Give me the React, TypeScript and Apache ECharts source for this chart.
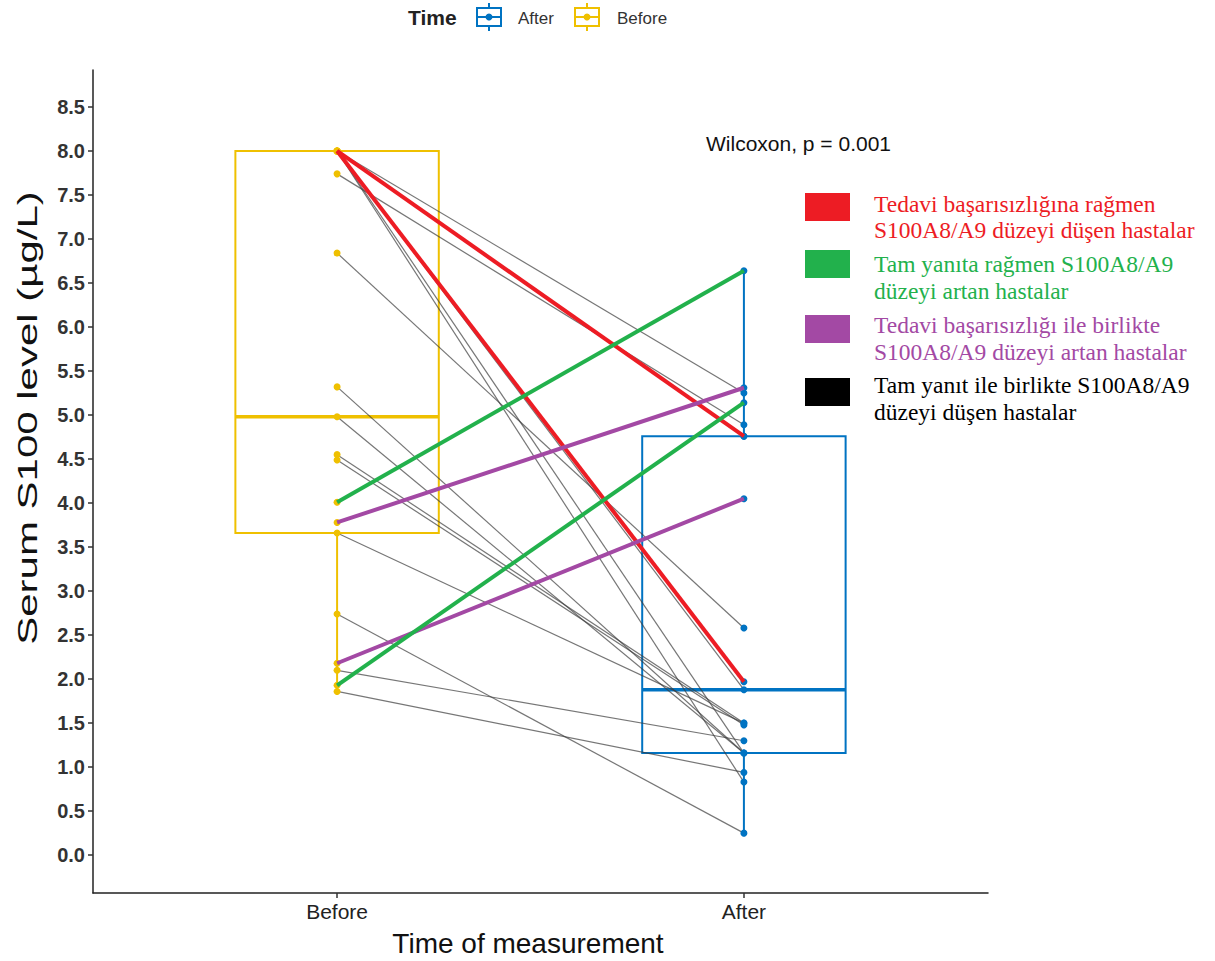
import React, { useEffect, useRef } from "react";
import * as echarts from "echarts";

// ---- data ----
const categories = ["Before", "After"];
const beforeValues = [8.0, 8.0, 8.0, 8.0, 8.0, 8.0, 8.0, 7.74, 6.84, 5.32, 4.98, 4.55, 4.49, 4.01, 3.78, 3.66, 2.74, 2.18, 2.1, 1.93, 1.86];
const afterValues = [4.76, 1.97, 5.25, 4.76, 1.88, 1.16, 0.83, 4.89, 2.58, 1.16, 1.16, 1.5, 1.48, 6.64, 5.31, 1.5, 0.25, 4.05, 1.3, 5.14, 0.94];
const patientGroups = ["red", "red", "grey", "grey", "grey", "grey", "grey", "grey", "grey", "grey", "grey", "grey", "grey", "green", "purple", "grey", "grey", "purple", "grey", "green", "grey"];
const yTickValues = [0, 0.5, 1, 1.5, 2, 2.5, 3, 3.5, 4, 4.5, 5, 5.5, 6, 6.5, 7, 7.5, 8, 8.5];
const legendTexts = [
  ["Tedavi başarısızlığına rağmen", "S100A8/A9 düzeyi düşen hastalar"],
  ["Tam yanıta rağmen S100A8/A9", "düzeyi artan hastalar"],
  ["Tedavi başarısızlığı ile birlikte", "S100A8/A9 düzeyi artan hastalar"],
  ["Tam yanıt ile birlikte S100A8/A9", "düzeyi düşen hastalar"],
];
const statText = "Wilcoxon, p = 0.001";

const BLUE = "#0073C2";
const YELLOW = "#EFC000";
const groupColors: Record<string, string> = {
  red: "#ED1C24",
  green: "#22B14C",
  purple: "#A349A4",
  grey: "rgba(60,60,60,0.7)",
};
const legendColors = ["#ED1C24", "#22B14C", "#A349A4", "#000000"];

function quantile(arr: number[], p: number) {
  const s = [...arr].sort((a, b) => a - b);
  const pos = (s.length - 1) * p;
  const lo = Math.floor(pos);
  const hi = Math.ceil(pos);
  return s[lo] + (s[hi] - s[lo]) * (pos - lo);
}
function boxStats(arr: number[]) {
  const q1 = quantile(arr, 0.25);
  const med = quantile(arr, 0.5);
  const q3 = quantile(arr, 0.75);
  const iqr = q3 - q1;
  const inside = arr.filter((v) => v >= q1 - 1.5 * iqr && v <= q3 + 1.5 * iqr);
  return [Math.min(...inside), q1, med, q3, Math.max(...inside)];
}

export default function App() {
  const ref = useRef<HTMLDivElement>(null);
  useEffect(() => {
    if (!ref.current) return;
    const chart = echarts.init(ref.current, null, { renderer: "svg" });
    const bStats = boxStats(beforeValues);
    const aStats = boxStats(afterValues);
    const boxData = [
      [1, ...bStats, 0],
      [2, ...aStats, 1],
    ];
    const boxColors = [YELLOW, BLUE];

    const lineSeries: any[] = beforeValues.map((b, i) => {
      const g = patientGroups[i];
      const colored = g !== "grey";
      return {
        type: "line",
        data: [
          [1, b],
          [2, afterValues[i]],
        ],
        symbol: "none",
        silent: true,
        z: colored ? 6 : 3,
        lineStyle: { color: groupColors[g], width: colored ? 4 : 1.2 },
      };
    });

    const option: any = {
      animation: false,
      grid: { left: 93, width: 895, top: 70, height: 823 },
      xAxis: {
        type: "value",
        min: 0.4,
        max: 2.6,
        splitLine: { show: false },
        axisLine: { show: true, onZero: false, lineStyle: { color: "#222", width: 1.5 } },
        axisTick: { show: true, customValues: [1, 2], length: 5, lineStyle: { color: "#333", width: 1.5 } },
        axisLabel: {
          customValues: [1, 2],
          formatter: (v: number) => categories[Math.round(v) - 1],
          color: "#222",
          fontSize: 21,
          fontFamily: "Liberation Sans",
          margin: 8,
        },
      },
      yAxis: {
        type: "value",
        min: -0.43,
        max: 8.92,
        splitLine: { show: false },
        axisLine: { show: true, onZero: false, lineStyle: { color: "#222", width: 1.5 } },
        axisTick: { show: true, customValues: yTickValues, length: 5, lineStyle: { color: "#333", width: 1.5 } },
        axisLabel: {
          customValues: yTickValues,
          formatter: (v: number) => v.toFixed(1),
          color: "#333",
          fontSize: 20,
          fontWeight: "bold",
          fontFamily: "Liberation Sans",
          margin: 8,
        },
      },
      series: [
        {
          type: "custom",
          data: boxData,
          z: 2,
          silent: true,
          renderItem: (params: any, api: any) => {
            const x = api.value(0);
            const c = boxColors[api.value(6)];
            const w = api.size([0.5, 0])[0];
            const pMin = api.coord([x, api.value(1)]);
            const pQ1 = api.coord([x, api.value(2)]);
            const pMed = api.coord([x, api.value(3)]);
            const pQ3 = api.coord([x, api.value(4)]);
            const pMax = api.coord([x, api.value(5)]);
            const px = pMed[0];
            const st = { stroke: c, lineWidth: 2, fill: "rgba(0,0,0,0)" };
            return {
              type: "group",
              children: [
                { type: "line", shape: { x1: px, y1: pMax[1], x2: px, y2: pQ3[1] }, style: st },
                { type: "line", shape: { x1: px, y1: pQ1[1], x2: px, y2: pMin[1] }, style: st },
                { type: "rect", shape: { x: px - w / 2, y: pQ3[1], width: w, height: pQ1[1] - pQ3[1] }, style: st },
                { type: "line", shape: { x1: px - w / 2, y1: pMed[1], x2: px + w / 2, y2: pMed[1] }, style: { stroke: c, lineWidth: 3.5 } },
              ],
            };
          },
        },
        ...lineSeries,
        {
          type: "scatter",
          data: beforeValues.map((v) => [1, v]),
          symbolSize: 7,
          itemStyle: { color: YELLOW, opacity: 1 },
          z: 4,
          silent: true,
        },
        {
          type: "scatter",
          data: afterValues.map((v) => [2, v]),
          symbolSize: 7,
          itemStyle: { color: BLUE, opacity: 1 },
          z: 4,
          silent: true,
        },
      ],
      graphic: [
        // y-axis title
        {
          type: "text",
          x: 28,
          y: 418,
          rotation: Math.PI / 2,
          scaleX: 1.5,
          style: {
            text: "Serum S100 level (µg/L)",
            fontSize: 28,
            fontFamily: "Liberation Sans",
            fill: "#111",
            align: "center",
            verticalAlign: "middle",
          },
        },
        // x-axis title
        {
          type: "text",
          x: 528,
          y: 943,
          style: {
            text: "Time of measurement",
            fontSize: 28,
            fontFamily: "Liberation Sans",
            fill: "#111",
            align: "center",
            verticalAlign: "middle",
          },
        },
        // stat text
        {
          type: "text",
          x: 706,
          y: 143,
          style: { text: statText, fontSize: 21, fontFamily: "Liberation Sans", fill: "#111", verticalAlign: "middle" },
        },
        // top legend
        {
          type: "text",
          x: 408,
          y: 17,
          style: { text: "Time", fontSize: 21, fontWeight: "bold", fontFamily: "Liberation Sans", fill: "#222", verticalAlign: "middle" },
        },
        ...[
          { x: 489, c: BLUE, label: "After", tx: 518 },
          { x: 587, c: YELLOW, label: "Before", tx: 617 },
        ].flatMap((d) => [
          { type: "line", shape: { x1: d.x, y1: 3, x2: d.x, y2: 31 }, style: { stroke: d.c, lineWidth: 2 } },
          { type: "rect", shape: { x: d.x - 12, y: 8, width: 24, height: 18 }, style: { stroke: d.c, lineWidth: 2, fill: "#fff" } },
          { type: "line", shape: { x1: d.x - 12, y1: 17, x2: d.x + 12, y2: 17 }, style: { stroke: d.c, lineWidth: 2 } },
          { type: "circle", shape: { cx: d.x, cy: 17, r: 3.5 }, style: { fill: d.c } },
          {
            type: "text",
            x: d.tx,
            y: 18,
            style: { text: d.label, fontSize: 17, fontFamily: "Liberation Sans", fill: "#333", verticalAlign: "middle" },
          },
        ]),
        // right legend
        ...legendTexts.flatMap((lines, i) => {
          const tops = [193, 250, 315, 378];
          const textY = [203.5, 264, 325, 385];
          return [
            { type: "rect", shape: { x: 805, y: tops[i], width: 45, height: 28 }, style: { fill: legendColors[i] } },
            {
              type: "text",
              x: 874,
              y: textY[i],
              style: {
                text: lines[0],
                fontSize: 23.5,
                fontFamily: "Liberation Serif",
                fill: legendColors[i],
                verticalAlign: "middle",
              },
            },
            {
              type: "text",
              x: 874,
              y: textY[i] + 26.5,
              style: {
                text: lines[1],
                fontSize: 23.5,
                fontFamily: "Liberation Serif",
                fill: legendColors[i],
                verticalAlign: "middle",
              },
            },
          ];
        }),
      ],
    };
    chart.setOption(option);
    return () => chart.dispose();
  }, []);
  return <div ref={ref} style={{ position: "fixed", left: 0, top: 0, width: 1215, height: 961, background: "#fff" }} />;
}
